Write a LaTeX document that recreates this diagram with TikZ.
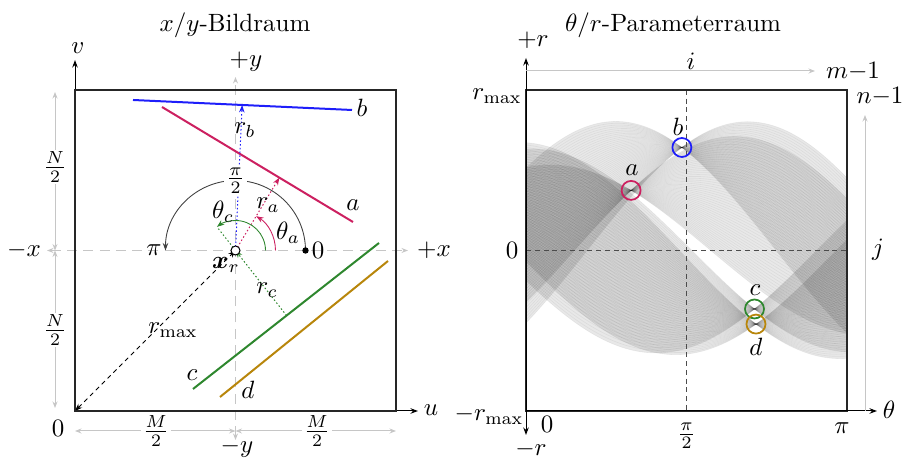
\documentclass[tikz,border=0pt]{standalone}
\usepackage{amsmath,bm}
\usetikzlibrary{arrows.meta,calc}
\definecolor{ca}{RGB}{204,32,96}
\definecolor{cb}{RGB}{30,30,250}
\definecolor{cc}{RGB}{46,135,46}
\definecolor{cd}{RGB}{184,134,11}
% Hough band of the segment (#1,#2)-(#3,#4), coordinates relative to the image centre
\newcommand\houghband[4]{%
  \fill[black,fill opacity=0.09] plot[domain=0:180,samples=91]
    ({526+\x*1.783333},{207.5+((#1)*cos(\x)+(#2)*sin(\x))*0.70705})
    -- plot[domain=180:0,samples=91]
    ({526+\x*1.783333},{207.5+((#3)*cos(\x)+(#4)*sin(\x))*0.70705}) -- cycle;
  \foreach \t in {0,0.02,...,1.001}{%
    \draw[black,draw opacity=0.055,line width=0.25pt] plot[domain=0:180,samples=91]
      ({526+\x*1.783333},{207.5+(((#1)+\t*((#3)-(#1)))*cos(\x)+((#2)+\t*((#4)-(#2)))*sin(\x))*0.70705});
  }%
}
\begin{document}
\begin{tikzpicture}[x=0.4pt,y=0.4pt,
  >={Stealth[length=3pt,width=2.2pt]},
  garrow/.style={gray!45,line width=0.4pt},
  gdash/.style={gray!45,line width=0.4pt,dash pattern=on 4pt off 2.5pt},
  wl/.style={fill=white,inner sep=0.8pt},
  lbl/.style={inner sep=1pt},
  segline/.style={line width=0.8pt},
  rarrow/.style={line width=0.4pt,dash pattern=on 0.6pt off 0.9pt,->},
  anglearc/.style={line width=0.35pt,->},
  boxline/.style={line width=0.8pt,black!85}]
\useasboundingbox (0,0) rectangle (902,458);

% ================= left: image space =================
\coordinate (C) at (235.5,207.5);
\coordinate (O) at (75,47);
\coordinate (LTR) at (396,368);
\node[lbl] (title1) at (235,433) {$x/y$-Bildraum};

% gray reference axes
\draw[gdash,<->,>={Stealth[length=2.6pt,width=2pt]}] (47,207.5) coordinate (xm) -- (408,207.5) coordinate (xp);
\draw[gdash,<->,>={Stealth[length=2.6pt,width=2pt]}] (235.5,18) coordinate (ym) -- (235.5,381) coordinate (yp);
\node[lbl] (lxm) at (24,207.5) {$-x$};
\node[lbl] (lxp) at (434,207.5) {$+x$};
\node[lbl] (lyp) at (246,396) {$+y$};
\node[inner sep=0pt] (lym) at (237,10) {$-y$};

% dimension arrows
\coordinate (n0) at (55,207.5);
\coordinate (n1) at (55,366);
\coordinate (n2) at (55,50);
\draw[garrow,<->,>={Stealth[length=2.6pt,width=2pt]}] (n0) -- (n1);
\draw[garrow,<->,>={Stealth[length=2.6pt,width=2pt]}] (n0) -- (n2);
\node[wl] (lN1) at (55,291) {$\frac{N}{2}$};
\node[wl] (lN2) at (55,128) {$\frac{N}{2}$};
\coordinate (m0) at (75,27);
\coordinate (m1) at (235.5,27);
\coordinate (m2) at (396,27);
\draw[garrow,<->,>={Stealth[length=2.6pt,width=2pt]}] (m0) -- (m1);
\draw[garrow,<->,>={Stealth[length=2.6pt,width=2pt]}] (m1) -- (m2);
\node[wl] (lM1) at (156,27) {$\frac{M}{2}$};
\node[wl] (lM2) at (317,27) {$\frac{M}{2}$};

% u/v axes
\draw[line width=0.4pt,->] (O) -- (75,398) coordinate (vtip);
\draw[line width=0.4pt,->] (O) -- (418,47) coordinate (utip);
\node[lbl] (lv) at (78,410) {$v$};
\node[lbl] (lu) at (431,48) {$u$};
\node[lbl] (l0) at (58,30) {$0$};

% segments
\draw[segline,cb] (133,358) coordinate (b1) -- (352,348) coordinate (b2);
\draw[segline,ca] (162,351) coordinate (a1) -- (353,236) coordinate (a2);
\draw[segline,cc] (193,69) coordinate (c1) -- (379,215) coordinate (c2);
\draw[segline,cd] (220,61) coordinate (d1) -- (388,197) coordinate (d2);
\node[lbl] (lb) at (362,350) {$b$};
\node[lbl] (la) at (353,253) {$a$};
\node[lbl] (lc) at (192,83) {$c$};
\node[lbl] (ld) at (248,68) {$d$};

% feet of the normals
\coordinate (Fa) at ($(C)+(58.95:85.02)$);
\coordinate (Fb) at ($(C)+(87.39:145.67)$);
\coordinate (Fc) at ($(C)+(-51.87:82.71)$);
\coordinate (Gc) at ($(C)+(128.13:30)$);
\draw[rarrow,cb] (C) -- (Fb);
\draw[rarrow,ca] (C) -- (Fa);
\draw[line width=0.4pt,dash pattern=on 0.6pt off 0.9pt,cc] (C) -- (Gc);
\draw[rarrow,cc] (Fc) -- (C);
\draw[line width=0.3pt,dash pattern=on 1.8pt off 1.5pt,<->] (O) -- (C);
\node[lbl] (lrb) at (245,328) {$r_b$};
\node[lbl] (lra) at (268,253) {$r_a$};
\node[lbl] (lrc) at (267,168) {$r_c$};
\node[lbl] (lrmax) at (173,128) {$r_{\max}$};
\node[lbl] (lxr) at (226,193) {$\bm{x}_r$};

% angle arcs
\draw[anglearc,black!75] ($(C)+(70,0)$) coordinate (z0) arc[start angle=0,end angle=180,radius=70] coordinate (zpi);
\fill (z0) circle[radius=3.2];
\node[wl] (lpi2) at (235.5,277.5) {$\frac{\pi}{2}$};
\node[lbl] (lzero) at (318,207.5) {$0$};
\node[lbl] (lpi) at (154,207.5) {$\pi$};
\draw[anglearc,ca] ($(C)+(40,0)$) arc[start angle=0,end angle=58.95,radius=40];
\draw[anglearc,cc] ($(C)+(30,0)$) arc[start angle=0,end angle=128.13,radius=30];
\node[lbl] (lta) at (288,225) {$\theta_a$};
\node[lbl] (ltc) at (223,246) {$\theta_c$};
\draw[line width=0.4pt,fill=white] (C) circle[radius=4.5];

\draw[boxline] (O) rectangle (LTR);

% ================= right: parameter space =================
\node[lbl] (title2) at (673,433) {$\theta/r$-Parameterraum};
\coordinate (P0) at (526,47);
\coordinate (P1) at (847,368);
\begin{scope}
\clip (P0) rectangle (P1);
\houghband{-102.5}{150.5}{116.5}{140.5}
\houghband{-73.5}{143.5}{117.5}{28.5}
\houghband{-42.5}{-138.5}{143.5}{7.5}
\houghband{-15.5}{-146.5}{152.5}{-10.5}
\end{scope}
\draw[black!70,line width=0.35pt,dash pattern=on 2pt off 1.5pt] (526,207.5) coordinate (h0) -- (847,207.5) coordinate (h1);
\draw[black!70,line width=0.35pt,dash pattern=on 2pt off 1.5pt] (686.5,368) coordinate (q0) -- (686.5,47) coordinate (q1);

% accumulator maxima
\draw[ca,line width=0.7pt] (631.1,267.6) circle[radius=9.5];
\draw[cb,line width=0.7pt] (681.9,310.5) circle[radius=9.5];
\draw[cc,line width=0.7pt] (754.5,149.0) circle[radius=9.5];
\draw[cd,line width=0.7pt] (756.0,133.9) circle[radius=9.5];
\node[lbl] (pa) at (632,288) {$a$};
\node[lbl] (pb) at (678,331) {$b$};
\node[lbl] (pc) at (755,168) {$c$};
\node[lbl] (pd) at (756,111) {$d$};

\draw[boxline] (P0) rectangle (P1);

% axes
\draw[line width=0.4pt,<->] (526,23) coordinate (rm) -- (526,400) coordinate (rp);
\draw[line width=0.4pt,->] (P0) -- (877,47) coordinate (thtip);
\node[lbl] (lrp) at (533,418) {$+r$};
\node[inner sep=0pt] (lrm) at (531,9) {$-r$};
\node[lbl] (lth) at (889,48) {$\theta$};
\draw[garrow,->,>={Stealth[length=2.6pt,width=2pt]}] (526,387) coordinate (i0) -- (815,387) coordinate (i1);
\draw[garrow,->,>={Stealth[length=2.6pt,width=2pt]}] (865,47) coordinate (j0) -- (865,343) coordinate (j1);
\node[lbl] (li) at (691,397) {$i$};
\node[lbl] (lm) at (853,387) {$m{-}1$};
\node[lbl] (ln) at (880,362) {$n{-}1$};
\node[lbl] (lj) at (878,208) {$j$};
\node[lbl] (lrmaxp) at (497,362) {$r_{\max}$};
\node[lbl] (lrmaxm) at (489,43) {$-r_{\max}$};
\node[lbl] (lp0) at (512,208) {$0$};
\node[inner sep=0pt] (lb0) at (547,34) {$0$};
\node[lbl] (lbpi2) at (686.5,22) {$\frac{\pi}{2}$};
\node[lbl] (lbpi) at (842,30) {$\pi$};
\end{tikzpicture}
\end{document}
